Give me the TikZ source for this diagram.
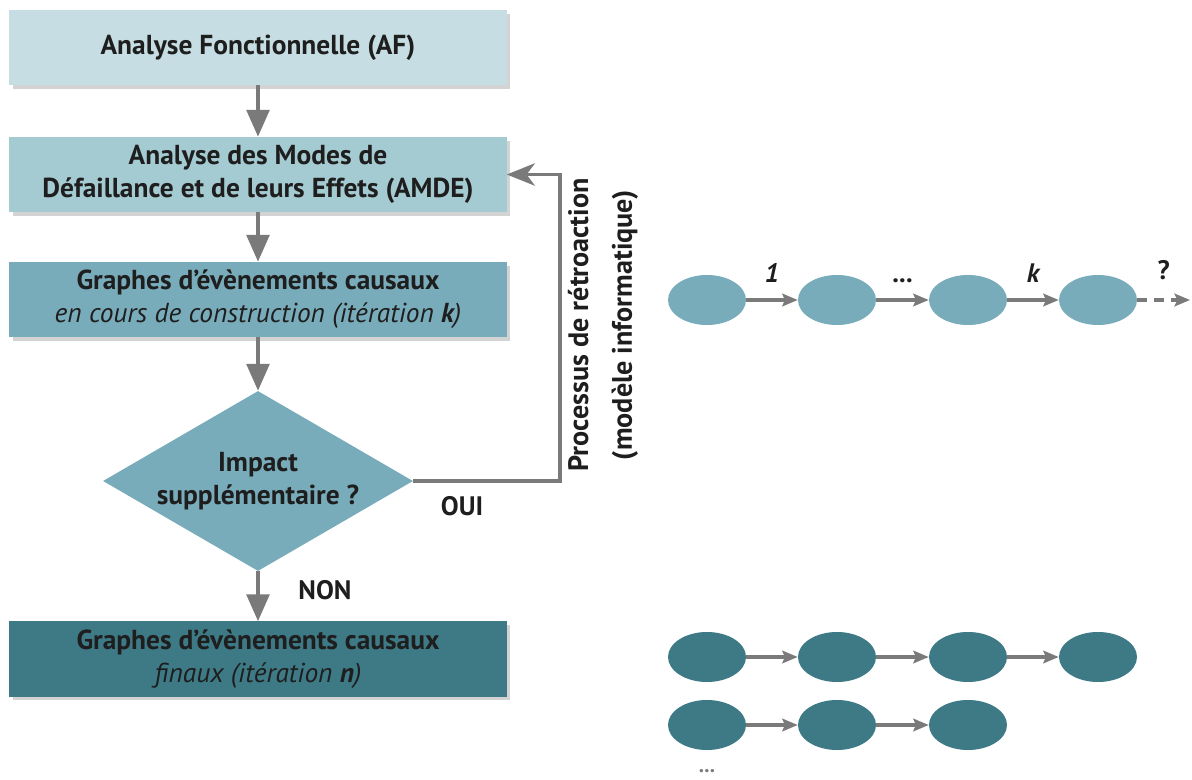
\documentclass[tikz,border=0pt]{standalone}
\usepackage{fontspec}
\setmainfont{PT Sans}
\usetikzlibrary{arrows.meta,shapes.geometric,shadows,positioning}

\definecolor{paleteal}{HTML}{C6DEE3}
\definecolor{lightteal}{HTML}{A5CBD2}
\definecolor{midteal}{HTML}{79ACBA}
\definecolor{darkteal}{HTML}{3D7A86}
\definecolor{arrowgray}{HTML}{7A7A7A}
\definecolor{inkgray}{HTML}{1E1E1E}

\tikzset{
  stepbox/.style={rectangle, minimum width=12.425cm, minimum height=1.875cm,
    inner sep=2pt, align=center, text=inkgray, font=\fontsize{19.5}{23.5}\selectfont,
    drop shadow={shadow xshift=2.5pt, shadow yshift=-2.5pt, opacity=.35}},
  event/.style={ellipse, minimum width=1.95cm, minimum height=1.25cm, inner sep=0},
  flow/.style={draw=arrowgray, line width=2.8pt, -{Triangle[width=16pt,length=19pt]}},
  link/.style={draw=arrowgray, line width=2.2pt, -{Stealth[width=9pt,length=11pt,inset=2pt]}},
  tag/.style={font=\bfseries\fontsize{19}{22}\selectfont, text=inkgray}
}

\begin{document}
\begin{tikzpicture}[x=0.025cm, y=-0.025cm]
  \useasboundingbox (0,0) rectangle (1192,780);

  % flowchart
  \node[stepbox, fill=paleteal] (af) at (258,47.5) {\bfseries Analyse Fonctionnelle (AF)};
  \node[stepbox, fill=lightteal] (amde) at (258,174.5)
    {\bfseries Analyse des Modes de\\ \bfseries Défaillance et de leurs Effets (AMDE)};
  \node[stepbox, fill=midteal] (graphk) at (258,299.5)
    {\bfseries Graphes d’évènements causaux\\ \itshape en cours de construction (itération \textbf{k})};
  \node[diamond, fill=midteal, minimum width=7.75cm, minimum height=4.5cm, aspect=1.72,
    inner sep=0, align=center, text=inkgray, font=\bfseries\fontsize{19.5}{23.5}\selectfont]
    (impact) at (258,481) {Impact\\ supplémentaire ?};
  \node[stepbox, fill=darkteal] (graphn) at (258,659)
    {\bfseries Graphes d’évènements causaux\\ \itshape finaux (itération \textbf{n})};

  \draw[flow] (af) -- (amde);
  \draw[flow] (amde) -- (graphk);
  \draw[flow] (graphk) -- (impact);
  \draw[flow] (impact) -- (graphn);

  % feedback loop
  \coordinate (loop) at (560,481);
  \draw[draw=arrowgray, line width=2.2pt, -{Stealth[width=16pt,length=20pt,inset=6pt]}]
    (impact.east) -- (loop) |- (amde.east);
  \node[tag, rotate=90, align=center, font=\bfseries\fontsize{20}{31}\selectfont]
    (retro) at (603,325) {Processus de rétroaction\\ (modèle informatique)};
  \node[tag] (oui) at (462,506) {OUI};
  \node[tag] (non) at (325,590) {NON};

  % chain under construction
  \foreach \i/\x in {1/707,2/837,3/968,4/1098}
    \node[event, fill=midteal] (e\i) at (\x,300) {};
  \draw[link] (e1) -- (e2) node[midway, above=8pt, tag] {\itshape 1};
  \draw[link] (e2) -- (e3) node[midway, above=8pt, tag] {...};
  \draw[link] (e3) -- (e4) node[midway, above=8pt, tag] {\itshape k};
  \coordinate (next) at (1190,300);
  \draw[link, dashed, dash pattern=on 7pt off 5pt] (e4) -- (next)
    node[midway, above=10pt, tag] {?};

  % final chains
  \foreach \i/\x in {1/707,2/837,3/968,4/1098}
    \node[event, fill=darkteal] (f\i) at (\x,657) {};
  \foreach \i/\x in {1/707,2/837,3/968}
    \node[event, fill=darkteal] (g\i) at (\x,725) {};
  \draw[link] (f1) -- (f2);
  \draw[link] (f2) -- (f3);
  \draw[link] (f3) -- (f4);
  \draw[link] (g1) -- (g2);
  \draw[link] (g2) -- (g3);
  \node[tag, text=arrowgray, font=\bfseries\fontsize{15}{18}\selectfont] (more) at (707,771) {...};
\end{tikzpicture}
\end{document}
